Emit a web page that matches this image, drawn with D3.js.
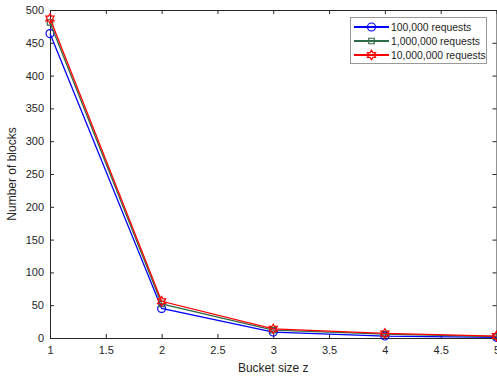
<!DOCTYPE html>
<html>
<head>
<meta charset="utf-8">
<script src="https://cdn.jsdelivr.net/npm/d3@7"></script>
<style>
  body { margin: 0; background: #fff; }
  text { font-family: "Liberation Sans", Arial, sans-serif; fill: #262626; }
</style>
</head>
<body>
<svg id="chart" width="497" height="377"></svg>
<script>
// data
var bucketSizes = [1, 2, 3, 4, 5];
var req100k = [464, 45, 9, 3, 1];
var req1m = [481, 52, 12, 6, 2];
var req10m = [487, 56, 14, 7, 3];
var xTicks = [1, 1.5, 2, 2.5, 3, 3.5, 4, 4.5, 5];
var yTicks = [0, 50, 100, 150, 200, 250, 300, 350, 400, 450, 500];
var seriesNames = ["100,000 requests", "1,000,000 requests", "10,000,000 requests"];

var margin = {top: 10, right: 0, bottom: 39, left: 50},
    width = 497 - margin.left - margin.right,
    height = 377 - margin.top - margin.bottom;

var svg = d3.select("#chart")
    .append("g")
    .attr("transform", "translate(" + margin.left + "," + margin.top + ")");

var x = d3.scaleLinear().domain([1, 5]).range([0, width - 0.5]);
var y = d3.scaleLinear().domain([0, 500]).range([height, 0]);

// hexagram marker like matlab 'h'
var hexagram = {
    draw: function (ctx, size) {
        var r = Math.sqrt(size) * 0.75, ri = r * 0.58;
        for (var i = 0; i < 12; i++) {
            var a = -Math.PI / 2 + i * Math.PI / 6;
            var rr = i % 2 === 0 ? r : ri;
            if (i === 0) ctx.moveTo(rr * Math.cos(a), rr * Math.sin(a));
            else ctx.lineTo(rr * Math.cos(a), rr * Math.sin(a));
        }
        ctx.closePath();
    }
};

var series = [
    {name: seriesNames[0], values: req100k, color: "#0000ff", symbol: d3.symbolCircle, size: 50},
    {name: seriesNames[1], values: req1m, color: "#2f6b47", symbol: d3.symbolSquare, size: 30},
    {name: seriesNames[2], values: req10m, color: "#ff0000", symbol: hexagram, size: 40}
];

// axes (matlab box style, ticks inside)
var axisColor = "#262626";
var xAxis = svg.append("g")
    .attr("transform", "translate(0," + height + ")")
    .call(d3.axisBottom(x).tickValues(xTicks).tickSizeInner(-4).tickSizeOuter(0).tickPadding(8).tickFormat(d3.format("")));
var xTop = svg.append("g")
    .call(d3.axisTop(x).tickValues(xTicks).tickSizeInner(-4).tickSizeOuter(0).tickFormat(""));
var yAxis = svg.append("g")
    .call(d3.axisLeft(y).tickValues(yTicks).tickSizeInner(-4).tickSizeOuter(0).tickPadding(6));
var yRight = svg.append("g")
    .attr("transform", "translate(" + (width - 0.5) + ",0)")
    .call(d3.axisRight(y).tickValues(yTicks).tickSizeInner(-4).tickSizeOuter(0).tickFormat(""));

[xAxis, xTop, yAxis, yRight].forEach(function (g) {
    g.selectAll("path, line").attr("stroke", axisColor);
    g.selectAll("text").style("font-size", "11px").attr("fill", axisColor);
});

// lines and markers
var line = d3.line()
    .x(function (d, i) { return x(bucketSizes[i]); })
    .y(function (d) { return y(d); });

series.forEach(function (s) {
    svg.append("path")
        .datum(s.values)
        .attr("fill", "none")
        .attr("stroke", s.color)
        .attr("stroke-width", 1.3)
        .attr("d", line);
    svg.selectAll(null)
        .data(s.values)
        .enter().append("path")
        .attr("transform", function (d, i) { return "translate(" + x(bucketSizes[i]) + "," + y(d) + ")"; })
        .attr("d", d3.symbol().type(s.symbol).size(s.size))
        .attr("fill", "none")
        .attr("stroke", s.color)
        .attr("stroke-width", 1.2);
});

// axis labels
svg.append("text")
    .attr("x", x(3))
    .attr("y", height + 34)
    .attr("text-anchor", "middle")
    .style("font-size", "12px")
    .text("Bucket size z");

svg.append("text")
    .attr("transform", "translate(-34," + (height / 2) + ") rotate(-90)")
    .attr("text-anchor", "middle")
    .style("font-size", "12px")
    .text("Number of blocks");

// legend
var legend = svg.append("g").attr("transform", "translate(300,7)");
legend.append("rect")
    .attr("x", 0.5).attr("y", 0.5)
    .attr("width", 136).attr("height", 46)
    .attr("fill", "#fff")
    .attr("stroke", "#999");

series.forEach(function (s, i) {
    var ly = 10 + i * 14;
    legend.append("line")
        .attr("x1", 4).attr("x2", 39)
        .attr("y1", ly).attr("y2", ly)
        .attr("stroke", s.color)
        .attr("stroke-width", 2);
    legend.append("path")
        .attr("transform", "translate(21.5," + ly + ")")
        .attr("d", d3.symbol().type(s.symbol).size(s.size))
        .attr("fill", "none")
        .attr("stroke", s.color)
        .attr("stroke-width", 1.2);
    legend.append("text")
        .attr("x", 41)
        .attr("y", ly)
        .attr("dy", "0.35em")
        .style("font-size", "10.4px")
        .attr("fill", "#000")
        .text(s.name);
});
</script>
</body>
</html>
